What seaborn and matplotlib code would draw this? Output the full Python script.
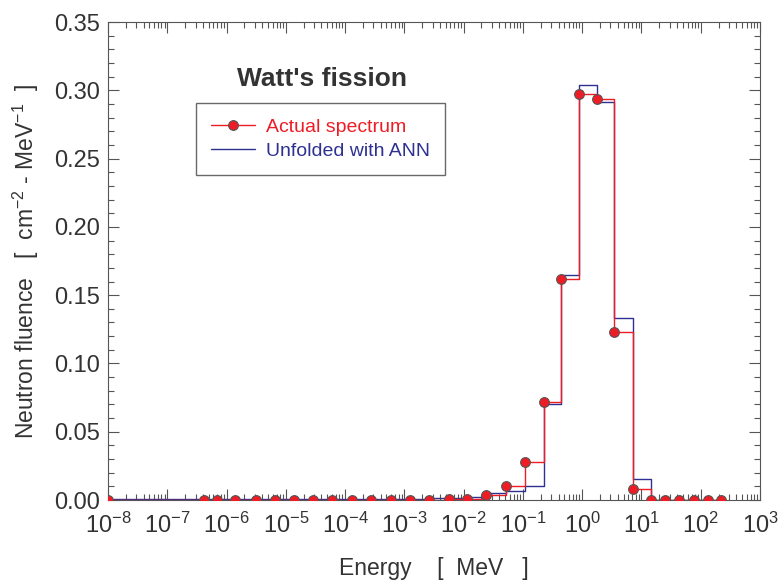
import numpy as np
import pandas as pd
import matplotlib
matplotlib.use("Agg")
import matplotlib.pyplot as plt
import matplotlib.ticker as mticker
import seaborn as sns

# energy groups (MeV) and fluence values
energy = [1.0e-8, 4.2e-7, 6.8e-7, 1.4e-6, 3.1e-6, 6.6e-6, 1.4e-5, 2.9e-5, 6.0e-5,
          1.3e-4, 2.7e-4, 5.9e-4, 1.24e-3, 2.6e-3, 5.6e-3, 1.16e-2, 2.43e-2, 5.1e-2,
          0.107, 0.225, 0.44, 0.89, 1.8, 3.5, 7.2, 14.6, 25.0, 43.0, 76.0, 131.0, 224.0]
actual = [0.0, 0.0, 0.0, 0.0, 0.0, 0.0, 0.0, 0.0, 0.0,
          0.0, 0.0, 0.0, 0.0002, 0.0003, 0.0005, 0.001, 0.0034, 0.0105,
          0.028, 0.0715, 0.162, 0.297, 0.2935, 0.123, 0.0083, 0.0, 0.0, 0.0, 0.0, 0.0, 0.0]
unfolded = [0.0005, 0.0005, 0.0005, 0.0005, 0.0005, 0.0005, 0.0005, 0.0005, 0.0005,
            0.0005, 0.0005, 0.0005, 0.0008, 0.0017, 0.0017, 0.0024, 0.0054, 0.0066,
            0.0099, 0.0705, 0.165, 0.304, 0.2915, 0.1335, 0.0152, 0.0, 0.0, 0.0, 0.0, 0.0, 0.0]

df = pd.DataFrame({"Energy": energy, "Actual": actual, "Unfolded": unfolded})

sns.set_style("ticks")
plt.rcParams["font.family"] = ["Liberation Sans", "DejaVu Sans"]
plt.rcParams["mathtext.default"] = "regular"

red = "#ee1c25"
blue = "#2e3192"
txt = "#333333"

fig = plt.figure(figsize=(7.79, 5.80), dpi=100)
ax = fig.add_axes([0.1386, 0.1379, 0.8370, 0.8241])

sns.lineplot(data=df, x="Energy", y="Actual", ax=ax, color=red, lw=1.0,
             drawstyle="steps-post", marker="o", markersize=7,
             markerfacecolor=red, markeredgecolor="#555555", markeredgewidth=0.8,
             label="Actual spectrum", zorder=3)
sns.lineplot(data=df, x="Energy", y="Unfolded", ax=ax, color=blue, lw=1.0,
             drawstyle="steps-post", label="Unfolded with ANN", zorder=2)

ax.set_xscale("log")
ax.set_xlim(1e-8, 1e3)
ax.set_ylim(0, 0.35)
ax.xaxis.set_major_locator(mticker.LogLocator(base=10, numticks=20))
ax.xaxis.set_minor_locator(mticker.LogLocator(base=10, subs=np.arange(2, 10), numticks=20))
ax.xaxis.set_minor_formatter(mticker.NullFormatter())
ax.yaxis.set_major_locator(mticker.MultipleLocator(0.05))
ax.yaxis.set_minor_locator(mticker.MultipleLocator(0.01))
ax.yaxis.set_major_formatter(mticker.FormatStrFormatter("%.2f"))

ax.tick_params(which="both", direction="in", top=True, right=True,
               color="#555555", width=0.8)
ax.tick_params(which="major", length=8, labelsize=17, labelcolor=txt)
ax.tick_params(which="minor", length=4)
ax.tick_params(axis="x", which="major", pad=9)
ax.tick_params(axis="y", which="major", pad=6)
for s in ax.spines.values():
    s.set_color("#555555")
    s.set_linewidth(0.8)

ax.set_xlabel("Energy    [  MeV   ]", fontsize=16.5, color=txt, labelpad=14)
ax.set_ylabel("Neutron fluence   [  cm$^{-2}$ - MeV$^{-1}$  ]", fontsize=16.5,
              color=txt, labelpad=9)

ax.text(0.328, 0.881, "Watt's fission", transform=ax.transAxes, ha="center",
        va="center", fontsize=19, fontweight="bold", color=txt)

leg = ax.legend(loc="upper left", bbox_to_anchor=(0.12, 0.85), fontsize=14,
                frameon=True, fancybox=False, handlelength=2.3,
                handletextpad=0.55, borderpad=0.75, labelspacing=0.35)
leg.get_frame().set_edgecolor("#444444")
leg.get_frame().set_linewidth(1.0)
for t, c in zip(leg.get_texts(), [red, blue]):
    t.set_color(c)

fig.savefig("out.png", dpi=100)
